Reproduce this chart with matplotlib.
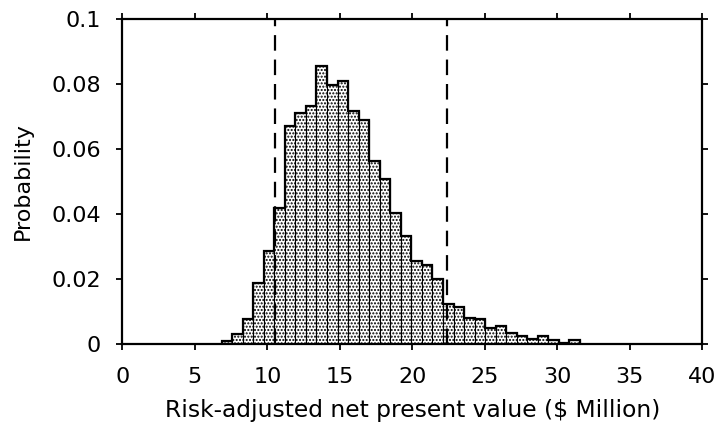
import numpy as np
import matplotlib.pyplot as plt

plt.rcParams['font.family'] = ['DejaVu Sans']
plt.rcParams['hatch.linewidth'] = 1.0

# histogram
first_edge = 6.84
bin_width = 0.727
probs = [0.0010, 0.0030, 0.0076, 0.0187, 0.0287, 0.0418, 0.0671, 0.0710,
         0.0733, 0.0855, 0.0798, 0.0810, 0.0716, 0.0689, 0.0564, 0.0507,
         0.0402, 0.0332, 0.0256, 0.0243, 0.0200, 0.0123, 0.0113, 0.0081,
         0.0076, 0.0048, 0.0056, 0.0033, 0.0025, 0.0016, 0.0025, 0.0012,
         0.0003, 0.0013]
dashed_x = [10.5, 22.4]

xticks = [0, 5, 10, 15, 20, 25, 30, 35, 40]
yticks = [0, 0.02, 0.04, 0.06, 0.08, 0.1]
ytick_labels = ['0', '0.02', '0.04', '0.06', '0.08', '0.1']

edges = first_edge + bin_width * np.arange(len(probs) + 1)

fig = plt.figure(figsize=(7.16, 4.24), dpi=100)
ax = fig.add_axes([0.171, 0.189, 0.81, 0.766])

ax.bar(edges[:-1], probs, width=bin_width, align='edge', facecolor='white',
       edgecolor='black', linewidth=0.8, hatch='.....')
# thicker outline around the histogram
ax.stairs(probs, edges, color='black', linewidth=1.6)

for xv in dashed_x:
    ax.axvline(xv, color='black', linestyle=(0, (7, 4)), linewidth=1.6)

ax.set_xlim(0, 40)
ax.set_ylim(0, 0.1)
ax.set_xticks(xticks)
ax.set_yticks(yticks)
ax.set_yticklabels(ytick_labels)
ax.tick_params(direction='out', length=4.5, width=1.3, labelsize=16,
               top=True, right=True)
ax.tick_params(axis='x', pad=12)
ax.tick_params(axis='y', pad=11)
for s in ax.spines.values():
    s.set_linewidth(1.6)

ax.set_xlabel('Risk-adjusted net present value ($ Million)', fontsize=16.8, labelpad=9)
ax.set_ylabel('Probability', fontsize=16, labelpad=13)

fig.savefig('out.png', dpi=100)
